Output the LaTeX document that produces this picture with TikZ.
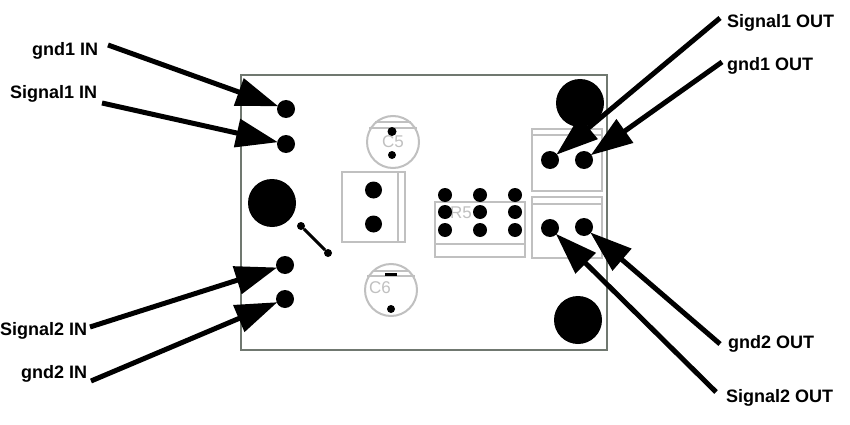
\documentclass[tikz,border=0pt]{standalone}
\usepackage{fontspec}
\setmainfont{Liberation Sans}
\usetikzlibrary{arrows.meta}
\definecolor{silk}{HTML}{C0C0C0}
\definecolor{edge}{HTML}{707870}
\tikzset{
  lbl/.style={font=\fontsize{18}{20}\selectfont\bfseries,inner sep=0pt,anchor=west,text=black},
  silkline/.style={draw=silk,line width=2pt},
  silktext/.style={font=\fontsize{17}{19}\selectfont,text=silk,inner sep=0pt},
  pad/.style={circle,fill=black,inner sep=0pt,minimum size=#1},
  wire/.style={draw=black,line width=5pt,-{Triangle[length=42pt,width=28pt]},shorten >=-1pt},
}
\begin{document}
\begin{tikzpicture}[x=1pt,y=-1pt]
\useasboundingbox (0,0) rectangle (850,425);
\fill[white] (0,0) rectangle (850,425);
\draw[edge,line width=2pt] (241,75) rectangle (607,350);
% silkscreen
\draw[silkline] (393,142) circle (26);
\draw[silkline] (375,122) -- (411,122) (369,128) -- (417,128);
\draw[silkline] (391,290) circle (26);
\draw[silkline] (373,271) -- (409,271) (367,276) -- (415,276);
\draw[silkline] (342,172) rectangle (405,242) (398,172) -- (398,242);
\draw[silkline] (435,202) rectangle (525,257) (435,244) -- (525,244);
\draw[silkline] (532,129) rectangle (602,191) (532,135) -- (602,135);
\draw[silkline] (532,197) rectangle (602,258) (532,204) -- (602,204);
\node[silktext] (c5) at (393,142) {C5};
\node[silktext] (c6) at (380,288) {C6};
\node[silktext] (r5) at (461,213) {R5};
% pads
\node[pad=48pt] (h1) at (580,103) {};
\node[pad=48pt] (h2) at (272,203) {};
\node[pad=48pt] (h3) at (578,320) {};
\node[pad=18pt] (p1) at (286,109) {};
\node[pad=18pt] (p2) at (286,144) {};
\node[pad=18pt] (p3) at (285,265) {};
\node[pad=18pt] (p4) at (285,299) {};
\node[pad=18pt] (q1) at (550,160) {};
\node[pad=18pt] (q2) at (584,160) {};
\node[pad=18pt] (q3) at (550,228) {};
\node[pad=18pt] (q4) at (584,227) {};
\node[pad=17pt] (k1) at (373.5,190) {};
\node[pad=17pt] (k2) at (373.5,224) {};
\foreach \x/\a in {445/a,480/b,515/c}
  \foreach \y/\b in {195/1,212/2,230/3}
    \node[pad=14pt] (r\a\b) at (\x,\y) {};
\node[pad=9pt] (c5a) at (392,131.5) {};
\node[pad=8pt] (c5b) at (392,155) {};
\fill (385,273) rectangle (397,276);
\node[pad=8pt] (c6b) at (391,309) {};
\node[pad=8pt] (j1) at (301,226) {};
\node[pad=8pt] (j2) at (328,253) {};
\draw[black,line width=3pt] (j1) -- (j2);
% labels
\node[lbl] (t1) at (32,51) {gnd1 IN};
\node[lbl] (t2) at (10,94) {Signal1 IN};
\node[lbl] (t3) at (0,330.5) {Signal2 IN};
\node[lbl] (t4) at (21,374) {gnd2 IN};
\node[lbl] (t5) at (727,23) {Signal1 OUT};
\node[lbl] (t6) at (727,66) {gnd1 OUT};
\node[lbl] (t7) at (728,344) {gnd2 OUT};
\node[lbl] (t8) at (726,398) {Signal2 OUT};
% connectors
\coordinate (s1) at (108,45);
\coordinate (s2) at (102,103);
\coordinate (s3) at (90,327);
\coordinate (s4) at (91,381);
\coordinate (s5) at (720,18);
\coordinate (s6) at (722,62);
\coordinate (s7) at (720,344);
\coordinate (s8) at (716,392);
\draw[wire] (s1) -- (p1);
\draw[wire] (s2) -- (p2);
\draw[wire] (s3) -- (p3);
\draw[wire] (s4) -- (p4);
\draw[wire] (s5) -- (q1);
\draw[wire] (s6) -- (q2);
\draw[wire] (s7) -- (q4);
\draw[wire] (s8) -- (q3);
\end{tikzpicture}
\end{document}
